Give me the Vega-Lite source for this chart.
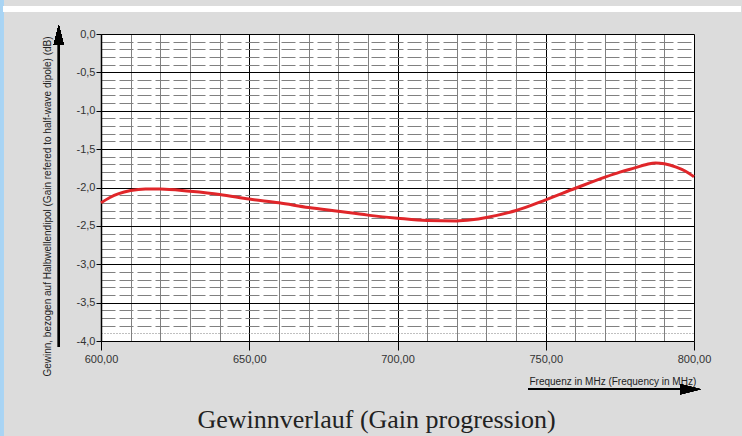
{
  "$schema": "https://vega.github.io/schema/vega-lite/v6.json",
  "width": 593,
  "height": 307,
  "autosize": "none",
  "padding": {"left": 101, "top": 34, "right": 48, "bottom": 95},
  "background": "#dcdcdc",
  "config": {"view": {"fill": "white", "stroke": null}},
  "title": {
    "text": "Gewinnverlauf (Gain progression)",
    "orient": "bottom",
    "frame": "group",
    "anchor": "middle",
    "baseline": "alphabetic",
    "font": "Liberation Serif",
    "fontSize": 26,
    "fontWeight": "normal",
    "color": "#222222",
    "dx": -21,
    "dy": -8,
    "offset": 0
  },
  "data": {
    "values": [
      {"freq": 600, "gain": -2.20},
      {"freq": 603, "gain": -2.13},
      {"freq": 606, "gain": -2.08},
      {"freq": 610, "gain": -2.04},
      {"freq": 615, "gain": -2.02},
      {"freq": 620, "gain": -2.02},
      {"freq": 630, "gain": -2.05},
      {"freq": 640, "gain": -2.09},
      {"freq": 650, "gain": -2.15},
      {"freq": 660, "gain": -2.20},
      {"freq": 670, "gain": -2.26},
      {"freq": 680, "gain": -2.31},
      {"freq": 690, "gain": -2.36},
      {"freq": 700, "gain": -2.40},
      {"freq": 710, "gain": -2.43},
      {"freq": 720, "gain": -2.435},
      {"freq": 725, "gain": -2.42},
      {"freq": 730, "gain": -2.39},
      {"freq": 740, "gain": -2.30},
      {"freq": 750, "gain": -2.16},
      {"freq": 760, "gain": -2.01},
      {"freq": 770, "gain": -1.865},
      {"freq": 775, "gain": -1.80},
      {"freq": 780, "gain": -1.745},
      {"freq": 784, "gain": -1.70},
      {"freq": 787, "gain": -1.68},
      {"freq": 790, "gain": -1.69},
      {"freq": 794, "gain": -1.735},
      {"freq": 797, "gain": -1.785},
      {"freq": 800, "gain": -1.86}
    ]
  },
  "resolve": {"axis": {"x": "independent", "y": "independent"}},
  "layer": [
    {
      "mark": {"type": "line", "color": "#e0262a", "strokeWidth": 3, "interpolate": "monotone"},
      "encoding": {
        "x": {
          "field": "freq",
          "type": "quantitative",
          "scale": {"domain": [600, 800], "nice": false, "zero": false},
          "axis": {
            "orient": "bottom",
            "values": [600, 610, 620, 630, 640, 650, 660, 670, 680, 690, 700, 710, 720, 730, 740, 750, 760, 770, 780, 790, 800],
            "labelExpr": "datum.value % 50 === 0 ? replace(format(datum.value, '.2f'), '.', ',') : ''",
            "labelFont": "Liberation Sans",
            "labelFontSize": 11,
            "labelColor": "#333333",
            "labelFlush": false,
            "labelOverlap": false,
            "labelBound": false,
            "labelPadding": 3,
            "domain": false,
            "grid": true,
            "gridColor": {"condition": {"test": "datum.value % 50 === 0", "value": "#000000"}, "value": "#808080"},
            "gridWidth": 1,
            "tickSize": 9,
            "tickColor": {"condition": {"test": "datum.value % 50 === 0", "value": "#000000"}, "value": "transparent"},
            "title": "Frequenz in MHz (Frequency in MHz)",
            "titleFont": "Liberation Sans",
            "titleFontSize": 10,
            "titleFontWeight": "normal",
            "titleColor": "#222222",
            "titleAlign": "left",
            "titleBaseline": "alphabetic",
            "titleX": 428,
            "titleY": 43
          }
        },
        "y": {
          "field": "gain",
          "type": "quantitative",
          "scale": {"domain": [-4, 0], "nice": false, "zero": false},
          "axis": {
            "orient": "left",
            "values": [0, -0.1, -0.2, -0.3, -0.4, -0.5, -0.6, -0.7, -0.8, -0.9, -1, -1.1, -1.2, -1.3, -1.4, -1.5, -1.6, -1.7, -1.8, -1.9, -2, -2.1, -2.2, -2.3, -2.4, -2.5, -2.6, -2.7, -2.8, -2.9, -3, -3.1, -3.2, -3.3, -3.4, -3.5, -3.6, -3.7, -3.8, -3.9, -4],
            "labelExpr": "abs(datum.value * 2 - round(datum.value * 2)) < 0.001 ? (datum.value < 0 ? '-' : '') + replace(format(abs(datum.value), '.1f'), '.', ',') : ''",
            "labelFont": "Liberation Sans",
            "labelFontSize": 11,
            "labelColor": "#333333",
            "labelOverlap": false,
            "labelPadding": 1,
            "domain": true,
            "domainColor": "#000000",
            "domainWidth": 1.5,
            "grid": true,
            "gridColor": {"condition": {"test": "abs(datum.value * 2 - round(datum.value * 2)) < 0.001", "value": "#000000"}, "value": "#808080"},
            "gridDash": {"condition": [
              {"test": "abs(datum.value * 2 - round(datum.value * 2)) < 0.001", "value": []},
              {"test": "abs(datum.value + 3.9) < 0.001", "value": [1, 2]}
            ], "value": [14, 4]},
            "gridWidth": 1,
            "tickSize": 5,
            "tickColor": {"condition": {"test": "abs(datum.value * 2 - round(datum.value * 2)) < 0.001", "value": "#000000"}, "value": "transparent"},
            "title": "Gewinn, bezogen auf Halbwellendipol (Gain refered to half-wave dipole) (dB)",
            "titleFont": "Liberation Sans",
            "titleFontSize": 10,
            "titleFontWeight": "normal",
            "titleColor": "#222222",
            "titleAngle": -90,
            "titleAlign": "center",
            "titleBaseline": "middle",
            "titleX": -54,
            "titleY": 172
          }
        }
      }
    },
    {
      "mark": {"type": "rect", "color": "#a9d4f4", "clip": false},
      "encoding": {
        "x": {"datum": 566.12, "type": "quantitative", "axis": null},
        "x2": {"datum": 567.13},
        "y": {"datum": 0.443, "type": "quantitative", "axis": null},
        "y2": {"datum": -5.238}
      }
    },
    {
      "mark": {"type": "rect", "color": "#ffffff", "clip": false},
      "encoding": {
        "x": {"datum": 567.13, "type": "quantitative", "axis": null},
        "x2": {"datum": 815.75},
        "y": {"datum": 0.365, "type": "quantitative", "axis": null},
        "y2": {"datum": 0.287}
      }
    },
    {
      "mark": {"type": "rule", "color": "#000000", "strokeWidth": 1.5, "clip": false},
      "encoding": {
        "x": {"datum": 585.74, "type": "quantitative", "axis": null},
        "y": {"datum": -4.078, "type": "quantitative", "axis": null},
        "y2": {"datum": -0.05}
      }
    },
    {
      "mark": {"type": "point", "shape": "M0,-1L0.5,1L-0.5,1Z", "size": 400, "filled": true, "color": "#000000", "opacity": 1, "clip": false},
      "encoding": {
        "x": {"datum": 585.74, "type": "quantitative", "axis": null},
        "y": {"datum": -0.013, "type": "quantitative", "axis": null}
      }
    },
    {
      "mark": {"type": "rule", "color": "#000000", "strokeWidth": 1.5, "clip": false},
      "encoding": {
        "x": {"datum": 744.19, "type": "quantitative", "axis": null},
        "x2": {"datum": 798.4},
        "y": {"datum": -4.629, "type": "quantitative", "axis": null}
      }
    },
    {
      "mark": {"type": "point", "shape": "M1,0L-1,-0.5L-1,0.5Z", "size": 400, "filled": true, "color": "#000000", "opacity": 1, "clip": false},
      "encoding": {
        "x": {"datum": 798.82, "type": "quantitative", "axis": null},
        "y": {"datum": -4.629, "type": "quantitative", "axis": null}
      }
    }
  ]
}
